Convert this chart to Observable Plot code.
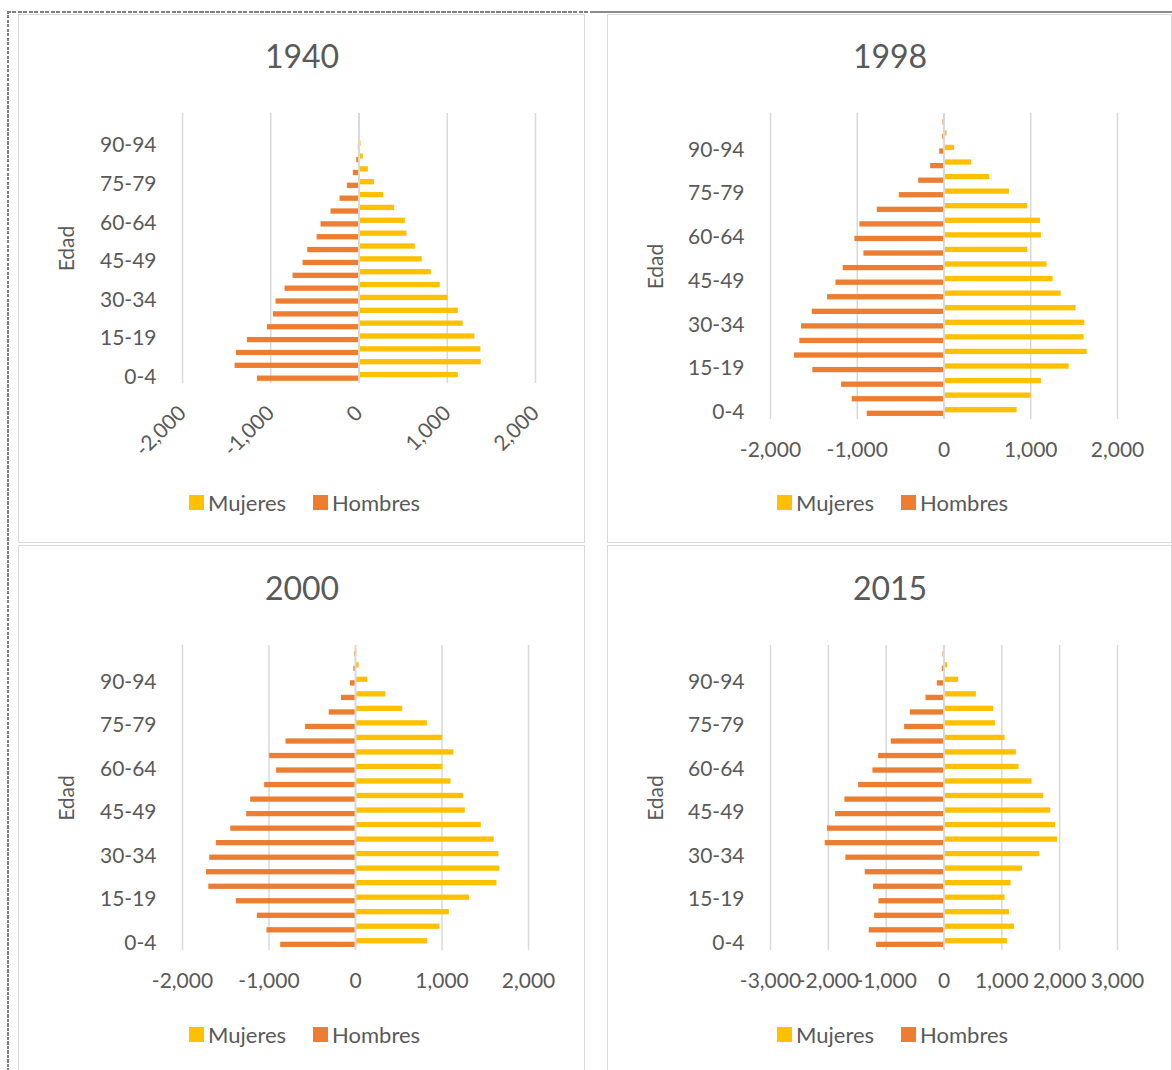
<!DOCTYPE html>
<html>
<head>
<meta charset="utf-8">
<script src="https://cdn.jsdelivr.net/npm/d3@7"></script>
<script src="https://cdn.jsdelivr.net/npm/@observablehq/plot@0.6"></script>
<style>
  html, body { margin: 0; padding: 0; background: #fff; }
  body { width: 1172px; height: 1070px; position: relative; overflow: hidden;
         font-family: Lato, "Open Sans", sans-serif; color: #595959; }
  .panel { position: absolute; border: 1px solid #d9d9d9; box-sizing: border-box; }
  .chart { position: absolute; }
  .title { position: absolute; font-size: 32px; line-height: 32px; text-align: center; width: 200px; white-space: nowrap; }
  .legend { position: absolute; display: flex; align-items: center; font-size: 22px; line-height: 22px; white-space: nowrap; }
  .legend .sw { width: 15px; height: 15px; margin-right: 4px; }
  .legend .item { display: flex; align-items: center; margin-right: 27px; }
  .dash-v { position: absolute; left: 7px; top: 11px; width: 2px; height: 1060px;
            background: repeating-linear-gradient(to bottom, #7f7f7f 0 3px, transparent 3px 4.5px); }
  .dash-h { position: absolute; left: 7px; top: 11px; width: 583px; height: 1.5px;
            background: repeating-linear-gradient(to right, #7f7f7f 0 4px, transparent 4px 5.5px); }
  .solid-h { position: absolute; left: 590px; top: 11px; width: 582px; height: 1.5px; background: #8c8c8c; }
</style>
</head>
<body>
<div class="dash-v"></div>
<div class="dash-h"></div>
<div class="solid-h"></div>
<script>
// ---- Data ----
const edades = ["0-4","5-9","10-14","15-19","20-24","25-29","30-34","35-39","40-44","45-49",
                "50-54","55-59","60-64","65-69","70-74","75-79","80-84","85-89","90-94","95-99","100+"];
const etiquetasEdad = ["0-4","15-19","30-34","45-49","60-64","75-79","90-94"];
const anios = ["1940", "1998", "2000", "2015"];
const series = ["Mujeres", "Hombres"];

const mujeres1940 = [1125,1385,1381,1313,1181,1125,1008,921,819,717,638,543,525,404,279,177,106,49,23,11,8];
const hombres1940 = [1151,1404,1389,1264,1038,970,940,838,747,634,581,475,430,317,215,132,64,26,8,6,5];

const mujeres1998 = [842,1004,1123,1442,1650,1615,1623,1523,1350,1258,1188,965,1123,1112,965,754,527,319,123,35,8];
const hombres1998 = [885,1058,1181,1512,1723,1662,1642,1519,1342,1246,1162,923,1027,969,769,515,292,154,50,15,12];

const mujeres2000 = [835,977,1085,1319,1635,1669,1658,1604,1454,1269,1250,1104,1012,1138,1008,831,546,350,142,42,15];
const hombres2000 = [865,1023,1135,1377,1696,1723,1685,1608,1442,1258,1212,1050,912,992,804,577,304,162,58,19,10];

const mujeres2015 = [1096,1218,1131,1056,1160,1356,1656,1962,1927,1846,1725,1523,1298,1252,1056,889,860,560,254,63,17];
const hombres2015 = [1166,1293,1200,1125,1218,1362,1697,2054,2014,1875,1714,1477,1229,1131,912,681,583,312,115,29,17];

const ticks2000 = [-2000, -1000, 0, 1000, 2000];
const ticks3000 = [-3000, -2000, -1000, 0, 1000, 2000, 3000];

const colores = ["#FFC000", "#ED7D31"];

// ---- Layout (styles only) ----
const paneles = [
  {anio: anios[0], mujeres: mujeres1940, hombres: hombres1940, ticks: ticks2000, rot: -45,
   left: 18, top: 14, width: 567, height: 527, mt: 99, mb: 158, ml: 164, mr: 50,
   titleY: 57, legendX: 189, legendY: 503, pad: 26, labelOffset: 123},
  {anio: anios[1], mujeres: mujeres1998, hombres: hombres1998, ticks: ticks2000, rot: 0,
   left: 607, top: 14, width: 565, height: 527, mt: 99, mb: 122, ml: 163, mr: 55,
   titleY: 57, legendX: 777, legendY: 503, pad: 23, labelOffset: 122},
  {anio: anios[2], mujeres: mujeres2000, hombres: hombres2000, ticks: ticks2000, rot: 0,
   left: 18, top: 545, width: 567, height: 525, mt: 100, mb: 120, ml: 164, mr: 57,
   titleY: 589, legendX: 189, legendY: 1035, pad: 23, labelOffset: 123},
  {anio: anios[3], mujeres: mujeres2015, hombres: hombres2015, ticks: ticks3000, rot: 0,
   left: 607, top: 545, width: 565, height: 525, mt: 100, mb: 120, ml: 163, mr: 55,
   titleY: 589, legendX: 777, legendY: 1035, pad: 23, labelOffset: 122}
];

const fmt = d => d3.format(",")(d).replace("\u2212", "-");

for (const p of paneles) {
  // panel frame
  const frame = document.createElement("div");
  frame.className = "panel";
  Object.assign(frame.style, {left: p.left + "px", top: p.top + "px",
    width: p.width + "px", height: (p.height + 2) + "px"});
  document.body.appendChild(frame);

  // title
  const t = document.createElement("div");
  t.className = "title";
  t.textContent = p.anio;
  Object.assign(t.style, {left: (p.left + p.width / 2 - 100 + 0.5) + "px", top: (p.titleY - 16.8) + "px"});
  document.body.appendChild(t);

  // chart
  const filas = edades.map((edad, i) => ({edad, mujeres: p.mujeres[i], hombres: -p.hombres[i]}));
  const plotH = p.height - p.mt - p.mb;
  const step = plotH / edades.length;
  const inset = (step - 5.3) / 2;
  const chart = Plot.plot({
    width: p.width, height: p.height,
    marginTop: p.mt, marginBottom: p.mb, marginLeft: p.ml, marginRight: p.mr,
    style: {fontFamily: "Lato, 'Open Sans', sans-serif", fontSize: "21px", color: "#595959",
            background: "transparent", overflow: "visible"},
    x: {domain: [p.ticks[0], p.ticks[p.ticks.length - 1]]},
    y: {domain: edades.slice().reverse(), padding: 0, round: false},
    marks: [
      Plot.ruleX(p.ticks.filter(d => d !== 0), {stroke: "#d9d9d9", strokeWidth: 1.5}),
      Plot.barX(filas, {y: "edad", x1: 0, x2: "mujeres", fill: colores[0],
                        insetTop: inset, insetBottom: inset, dy: -2}),
      Plot.barX(filas, {y: "edad", x1: 0, x2: "hombres", fill: colores[1],
                        insetTop: inset, insetBottom: inset, dy: 1.6}),
      Plot.ruleX([0], {stroke: "#d9d9d9", strokeWidth: 2}),
      Plot.axisX({ticks: p.ticks, tickFormat: fmt, tickSize: 0, tickPadding: p.pad,
                  tickRotate: p.rot, label: null}),
      Plot.axisY({ticks: etiquetasEdad, tickSize: 0, tickPadding: 26, label: "Edad",
                  labelAnchor: "center", labelOffset: p.labelOffset})
    ]
  });
  chart.classList.add("chart");
  Object.assign(chart.style, {left: p.left + "px", top: p.top + "px"});
  document.body.appendChild(chart);

  // legend
  const lg = document.createElement("div");
  lg.className = "legend";
  Object.assign(lg.style, {left: p.legendX + "px", top: (p.legendY - 11.5) + "px"});
  series.forEach((s, i) => {
    const it = document.createElement("div");
    it.className = "item";
    const sw = document.createElement("div");
    sw.className = "sw";
    sw.style.background = colores[i];
    const tx = document.createElement("span");
    tx.textContent = s;
    it.appendChild(sw); it.appendChild(tx);
    lg.appendChild(it);
  });
  document.body.appendChild(lg);
}
</script>
</body>
</html>
